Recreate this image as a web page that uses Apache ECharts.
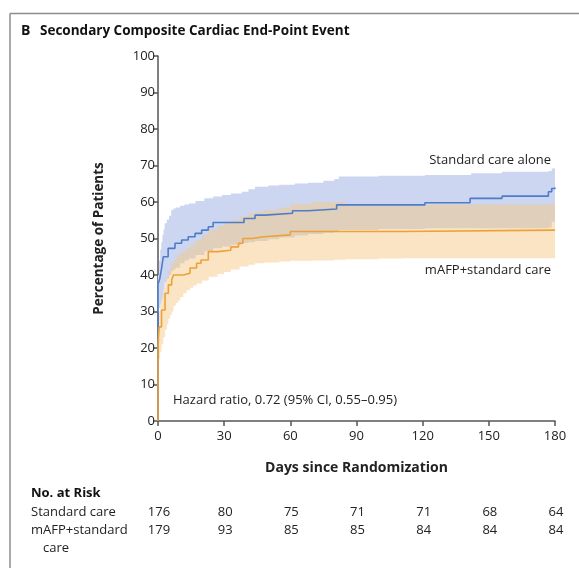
<!DOCTYPE html>
<html>
<head>
<meta charset="utf-8">
<script src="https://cdn.jsdelivr.net/npm/echarts@6/dist/echarts.min.js"></script>
<style>html,body{margin:0;padding:0;background:#fff;}#c{width:579px;height:568px;}</style>
</head>
<body>
<div id="c"></div>
<script>
// ---- data ----
const xTicks = [0, 30, 60, 90, 120, 150, 180];
const riskStandard = [176, 80, 75, 71, 71, 68, 64];
const riskMafp = [179, 93, 85, 85, 84, 84, 84];

// Standard care alone (KM curve, step)
const blueDays = [0, 0, 0.8, 1.5, 2.4, 4.6, 7.7, 10.7, 13.7, 16.8, 19.8, 22.8, 25, 39, 44, 48.5, 61, 68, 81, 121, 141.5, 156, 177, 178.5, 180];
const blueVals = [0, 37.5, 39, 41.4, 45, 47.3, 48.7, 49.6, 50.5, 51.4, 52.3, 53.2, 54.4, 55.5, 56.4, 56.9, 57.6, 58.1, 59.2, 59.8, 61, 61.6, 62.8, 63.7, 64];

// mAFP + standard care (KM curve, step)
const orangeDays = [0, 0, 0.5, 1.6, 3.2, 4.7, 6.2, 7, 11.5, 14.5, 17.5, 19.5, 22.8, 27, 33, 36.5, 38.5, 42.5, 48, 60, 110.5, 180];
const orangeVals = [0, 20, 25.8, 30.4, 35, 37.3, 38.6, 40, 40.5, 41.9, 43.2, 44.1, 46.4, 46.8, 47.7, 48.7, 50, 50.5, 51, 51.9, 52.3, 52.3];

// 95% CI bands
const blueBandDays = [0, 0.5, 1, 1.5, 2, 2.5, 3, 4, 5, 6, 7, 8, 10, 12, 14, 17, 21, 25, 29, 33, 38, 41, 44, 50, 55, 62, 68, 75, 80, 82, 100, 121, 142, 156, 170, 177, 178.5, 180];
const blueUpper = [40, 44, 47, 49, 51, 52.5, 54.2, 55.2, 56.2, 57.8, 58.2, 58.5, 59, 59.3, 59.6, 60.3, 61, 61.5, 61.9, 62.3, 62.8, 63.5, 64.2, 64.5, 64.7, 65.1, 65.3, 65.8, 66.3, 67, 67.2, 67.4, 67.9, 68.3, 68.3, 68.5, 69.2, 69.2];
const blueLower = [30, 31, 32, 33, 34, 36, 38, 39, 40, 41, 41.5, 42, 43.2, 44, 44.5, 45.5, 46.5, 47.3, 47.8, 48.3, 48.8, 49, 49.3, 49.8, 50.3, 50.8, 51.2, 51.6, 52, 52.3, 52.6, 52.8, 52.8, 52.8, 52.8, 53, 54.6, 54.6];

const orangeBandDays = [0, 0.5, 1, 1.6, 2.4, 3.2, 4, 4.7, 5.5, 6.2, 7, 8, 9, 10, 11.5, 13, 14.5, 16, 17.5, 20, 23, 27, 30, 33, 37, 41, 44, 48, 55, 60, 70, 80, 85, 100, 111, 140, 180];
const orangeUpper = [22, 30, 32, 34, 36, 38, 39.5, 41, 42, 43, 44, 44.8, 45.5, 46, 46.5, 47.3, 48, 48.8, 49.6, 51, 52.5, 53.5, 54.2, 55, 56, 56.9, 57.3, 57.8, 58.5, 59.5, 60, 60, 59.2, 59.2, 59.3, 59.3, 59.3];
const orangeLower = [12, 17, 19, 21, 23, 25, 26.5, 28, 29, 30, 31.5, 32.3, 33, 34, 35, 35.8, 36.5, 37.1, 37.7, 38.5, 39.5, 40.3, 40.8, 41.5, 42.3, 42.8, 43.2, 43.4, 43.7, 43.9, 44, 44.2, 44.3, 44.5, 44.6, 44.6, 44.6];

// ---- chart ----
const FONT = '"Open Sans", Lato, sans-serif';
const chart = echarts.init(document.getElementById('c'), null, {renderer: 'canvas'});

function bandSeries(days, up, lo, fill, z) {
  return {
    type: 'custom',
    z: z,
    clip: false,
    silent: true,
    data: [[0, 0]],
    renderItem: function (params, api) {
      const pts = [];
      for (let i = 0; i < days.length; i++) {
        pts.push(api.coord([days[i], up[i]]));
        if (i < days.length - 1) pts.push(api.coord([days[i + 1], up[i]]));
      }
      for (let i = days.length - 1; i >= 0; i--) {
        if (i < days.length - 1) pts.push(api.coord([days[i + 1], lo[i]]));
        pts.push(api.coord([days[i], lo[i]]));
      }
      return {type: 'polygon', shape: {points: pts}, style: {fill: fill}};
    }
  };
}

function zip(a, b) { return a.map((v, i) => [v, b[i]]); }

chart.setOption({
  animation: false,
  backgroundColor: '#fff',
  textStyle: {fontFamily: FONT},
  grid: {left: 158, right: 24, top: 56, bottom: 147, containLabel: false},
  xAxis: {
    type: 'value', min: 0, max: 180, interval: 30,
    name: 'Days since Randomization', nameLocation: 'middle', nameGap: 40,
    nameTextStyle: {fontFamily: FONT, fontWeight: 'bold', fontSize: 14, color: '#222'},
    axisLine: {show: true, onZero: false, lineStyle: {color: '#555', width: 1.5}},
    axisTick: {show: true, length: 5, lineStyle: {color: '#555', width: 1.5}},
    axisLabel: {fontFamily: FONT, fontSize: 13, color: '#222', margin: 9},
    splitLine: {show: false}
  },
  yAxis: {
    type: 'value', min: 0, max: 100, interval: 10,
    name: 'Percentage of Patients', nameLocation: 'middle', nameGap: 52,
    nameTextStyle: {fontFamily: FONT, fontWeight: 'bold', fontSize: 13.5, color: '#222'},
    axisLine: {show: true, lineStyle: {color: '#555', width: 1.5}},
    axisTick: {show: true, length: 5, lineStyle: {color: '#555', width: 1.5}},
    axisLabel: {fontFamily: FONT, fontSize: 13, color: '#222', margin: 3},
    splitLine: {show: false}
  },
  series: [
    bandSeries(blueBandDays, blueUpper, blueLower, 'rgb(205,214,240)', 1),
    bandSeries(orangeBandDays, orangeUpper, orangeLower, 'rgba(245,198,130,0.48)', 2),
    {
      type: 'line', step: 'end', z: 4, clip: false, symbol: 'none',
      data: zip(blueDays, blueVals),
      lineStyle: {color: '#4d7dc8', width: 1.6}
    },
    {
      type: 'line', step: 'end', z: 5, clip: false, symbol: 'none',
      data: zip(orangeDays, orangeVals),
      lineStyle: {color: '#eba23a', width: 1.6}
    }
  ]
});

// ---- text / table ----
const g = [];
g.push({type: 'line', shape: {x1: 10, y1: 13.5, x2: 579, y2: 13.5}, style: {stroke: '#8c8c8c', lineWidth: 1.5}});
g.push({type: 'line', shape: {x1: 10, y1: 13.5, x2: 10, y2: 568}, style: {stroke: '#8c8c8c', lineWidth: 1.5}});
g.push({type: 'text', x: 21, y: 31, style: {text: 'B', font: 'bold 14px ' + FONT, fill: '#111', verticalAlign: 'middle'}});
g.push({type: 'text', x: 40, y: 31, style: {text: 'Secondary Composite Cardiac End-Point Event', font: 'bold 13.5px ' + FONT, fill: '#111', verticalAlign: 'middle'}});

const annFont = '13px ' + FONT;
const ptA = chart.convertToPixel({gridIndex: 0}, [180, 0]);
g.push({type: 'text', x: ptA[0] - 4, y: 160, style: {text: 'Standard care alone', font: annFont, fill: '#222', align: 'right', verticalAlign: 'middle'}});
g.push({type: 'text', x: ptA[0] - 4, y: 270, style: {text: 'mAFP+standard care', font: annFont, fill: '#222', align: 'right', verticalAlign: 'middle'}});
g.push({type: 'text', x: 173, y: 400, style: {text: 'Hazard ratio, 0.72 (95% CI, 0.55\u20130.95)', font: annFont, fill: '#222', verticalAlign: 'middle'}});

g.push({type: 'text', x: 31, y: 493, style: {text: 'No. at Risk', font: 'bold 13px ' + FONT, fill: '#111', verticalAlign: 'middle'}});
g.push({type: 'text', x: 31, y: 512, style: {text: 'Standard care', font: annFont, fill: '#222', verticalAlign: 'middle'}});
g.push({type: 'text', x: 31, y: 530, style: {text: 'mAFP+standard', font: annFont, fill: '#222', verticalAlign: 'middle'}});
g.push({type: 'text', x: 43, y: 548, style: {text: 'care', font: annFont, fill: '#222', verticalAlign: 'middle'}});
xTicks.forEach((d, i) => {
  const px = chart.convertToPixel({xAxisIndex: 0}, d);
  g.push({type: 'text', x: px + 1, y: 512, style: {text: String(riskStandard[i]), font: annFont, fill: '#222', align: 'center', verticalAlign: 'middle'}});
  g.push({type: 'text', x: px + 1, y: 530, style: {text: String(riskMafp[i]), font: annFont, fill: '#222', align: 'center', verticalAlign: 'middle'}});
});
chart.setOption({graphic: g});
</script>
</body>
</html>
